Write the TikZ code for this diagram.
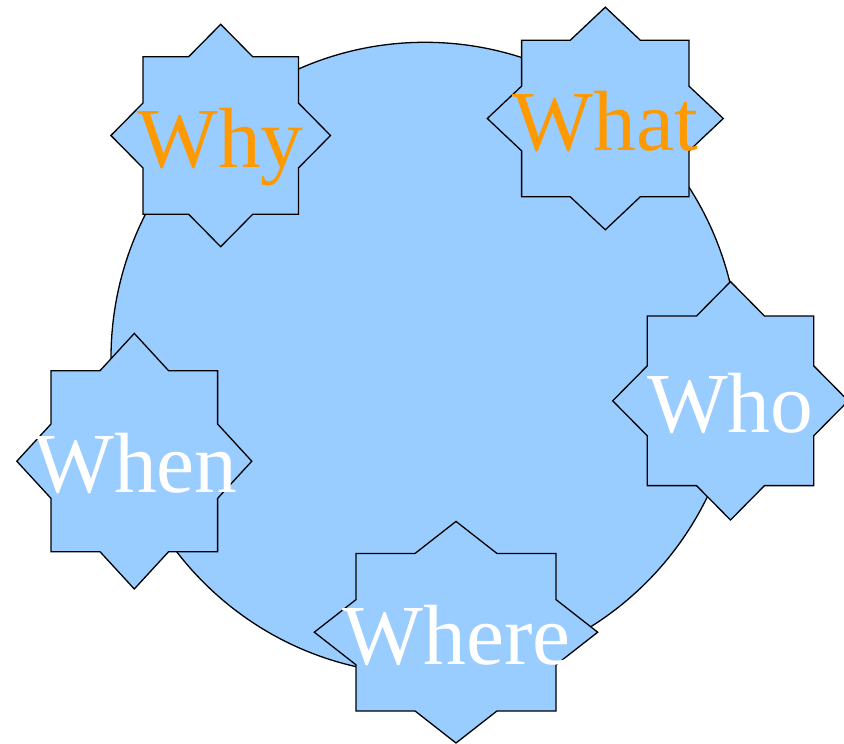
\documentclass[tikz,border=0pt]{standalone}
\usepackage{fontspec}
\setmainfont{Liberation Serif}
\definecolor{skyfill}{HTML}{99CCFF}
\definecolor{wordorange}{HTML}{FF9900}
\tikzset{
  shapeline/.style={draw=black,line width=1.3pt,fill=skyfill,line join=miter},
  word/.style={anchor=base,inner sep=0pt,font=\fontsize{85.5}{100}\selectfont},
}
% center x, center y, square half-width, square half-height, diamond half-width, diamond half-height
\newcommand\eightstar[6]{%
  \pgfmathsetmacro\stIX{#5*(1-#4/#6)}%
  \pgfmathsetmacro\stIY{#6*(1-#3/#5)}%
  \draw[shapeline] (#1,#2-#6) -- (#1+\stIX,#2-#4) -- (#1+#3,#2-#4) -- (#1+#3,#2-\stIY)
    -- (#1+#5,#2) -- (#1+#3,#2+\stIY) -- (#1+#3,#2+#4) -- (#1+\stIX,#2+#4)
    -- (#1,#2+#6) -- (#1-\stIX,#2+#4) -- (#1-#3,#2+#4) -- (#1-#3,#2+\stIY)
    -- (#1-#5,#2) -- (#1-#3,#2-\stIY) -- (#1-#3,#2-#4) -- (#1-\stIX,#2-#4) -- cycle;}
\begin{document}
\begin{tikzpicture}[x=1pt,y=-1pt]
\useasboundingbox (0,0) rectangle (844,744);
\clip (0,0) rectangle (844,744);
\draw[shapeline] (425,358.3) ellipse [x radius=314, y radius=316];
\eightstar{220.7}{135.5}{77.7}{78.7}{109.8}{111.2}
\eightstar{605.3}{118.5}{83.7}{78.3}{118}{111.3}
\eightstar{730.5}{400.8}{83.2}{84.8}{117.8}{119.2}
\eightstar{134.3}{461.2}{83.3}{90.5}{117.5}{127.8}
\eightstar{456}{632.2}{100}{78.8}{141.7}{110.8}
\node[word,text=wordorange] (why) at (220.5,167.8) {Why};
\node[word,text=wordorange] (what) at (605.5,150.7) {What};
\node[word,text=white] (who) at (730.2,432.7) {Who};
\node[word,text=white] (when) at (135.5,492.3) {When};
\node[word,text=white] (where) at (456.5,664) {Where};
\end{tikzpicture}
\end{document}
